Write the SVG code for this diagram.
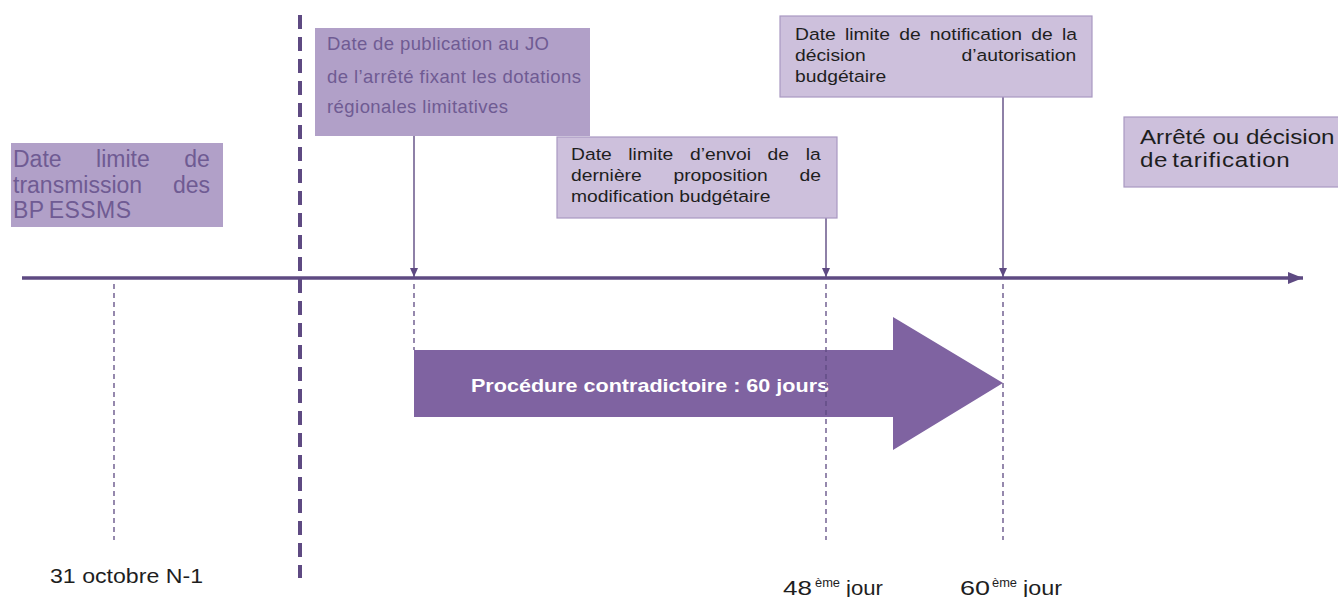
<svg xmlns="http://www.w3.org/2000/svg" width="1338" height="597" viewBox="0 0 1338 597">
<style>
  text { font-family: "Liberation Sans", Arial, sans-serif; }
  .b1 { fill: #b1a0c8; }
  .t1 { fill: #6f5b93; }
  .b3 { fill: #cdc0dc; stroke: #a998c2; stroke-width: 1.2; }
  .t3 { fill: #1e1e1e; font-size: 16.5px; }
  .thin { stroke: #5e4a82; stroke-width: 1.4; fill: none; }
  .dash { stroke: #5e4a82; stroke-width: 1.3; stroke-dasharray: 5 4; fill: none; }
  .lbl { fill: #1e1e1e; }
</style>
<defs>
  <marker id="ah" markerWidth="10" markerHeight="10" refX="9" refY="5" orient="auto" markerUnits="userSpaceOnUse">
    <path d="M0,1 L9,5 L0,9 Z" fill="#5e4a82"/>
  </marker>
  <marker id="bigah" markerWidth="16" markerHeight="14" refX="15" refY="7" orient="auto" markerUnits="userSpaceOnUse">
    <path d="M0,1 L15,7 L0,13 Z" fill="#5e4a82"/>
  </marker>
</defs>

<g id="procedure">
  <polygon points="414,350 893,350 893,317 1003,383 893,450 893,417 414,417" fill="#7f63a1"/>
  <text x="471" y="392" font-size="19" font-weight="bold" fill="#ffffff" textLength="358" lengthAdjust="spacingAndGlyphs">Procédure contradictoire : 60 jours</text>
</g>

<g id="connectors">
  <line x1="22" y1="278" x2="1303" y2="278" stroke="#5e4a82" stroke-width="3.5" marker-end="url(#bigah)"/>
  <line x1="300" y1="15" x2="300" y2="578" stroke="#5e4a82" stroke-width="4" stroke-dasharray="14 8"/>
  <line class="thin" x1="414" y1="136" x2="414" y2="277" marker-end="url(#ah)"/>
  <line class="thin" x1="826" y1="218" x2="826" y2="277" marker-end="url(#ah)"/>
  <line class="thin" x1="1003" y1="97" x2="1003" y2="277" marker-end="url(#ah)"/>
  <line class="dash" x1="114" y1="284" x2="114" y2="540"/>
  <line class="dash" x1="414" y1="284" x2="414" y2="350"/>
  <line class="dash" x1="826" y1="284" x2="826" y2="540"/>
  <line class="dash" x1="1003" y1="284" x2="1003" y2="540"/>
</g>

<g id="bp-essms">
  <rect class="b1" x="11" y="143" width="212" height="84"/>
  <text class="t1" x="13" y="167" font-size="23" word-spacing="28.1">Date limite de</text>
  <text class="t1" x="13" y="193" font-size="23" word-spacing="24.5">transmission des</text>
  <text class="t1" x="13" y="218" font-size="23" word-spacing="-2" letter-spacing="0.4">BP ESSMS</text>
</g>

<g id="publication-jo">
  <rect class="b1" x="315" y="28" width="275" height="108" fill="#b3a1c9"/>
  <text class="t1" x="327" y="50" font-size="18.5" textLength="222">Date de publication au JO</text>
  <text class="t1" x="327" y="83" font-size="18.5" textLength="254">de l’arrêté fixant les dotations</text>
  <text class="t1" x="327" y="113" font-size="18.5" textLength="181">régionales limitatives</text>
</g>

<g id="derniere-proposition">
  <rect class="b3" x="557" y="137" width="280" height="81"/>
  <g transform="translate(571,0) scale(1.17,1)">
    <text class="t3" x="0" y="160" word-spacing="9.6">Date limite d’envoi de la</text>
    <text class="t3" x="0" y="181" word-spacing="22.5">dernière proposition de</text>
    <text class="t3" x="0" y="202">modification budgétaire</text>
  </g>
</g>

<g id="notification">
  <rect class="b3" x="780" y="16" width="312" height="81"/>
  <g transform="translate(795,0) scale(1.17,1)">
    <text class="t3" x="0" y="40" word-spacing="3.3">Date limite de notification de la</text>
    <text class="t3" x="0" y="61" word-spacing="77.2">décision d’autorisation</text>
    <text class="t3" x="0" y="82">budgétaire</text>
  </g>
</g>

<g id="tarification">
  <rect class="b3" x="1124" y="117" width="216" height="70"/>
  <g transform="translate(1140,0) scale(1.15,1)">
    <text class="lbl" x="0" y="144" font-size="21">Arrêté ou décision</text>
    <text class="lbl" x="0" y="167" font-size="21" letter-spacing="0.6" word-spacing="-3">de tarification</text>
  </g>
</g>

<g id="label-31-octobre">
  <text class="lbl" x="50" y="583" font-size="20" textLength="153" lengthAdjust="spacingAndGlyphs">31 octobre N-1</text>
</g>

<g id="label-48">
  <text class="lbl" x="783" y="595" font-size="21" textLength="29" lengthAdjust="spacingAndGlyphs">48</text>
  <text class="lbl" x="815" y="587" font-size="12" textLength="25" lengthAdjust="spacingAndGlyphs">ème</text>
  <text class="lbl" x="846" y="595" font-size="21" textLength="37" lengthAdjust="spacingAndGlyphs">jour</text>
</g>

<g id="label-60">
  <text class="lbl" x="960" y="595" font-size="21" textLength="30" lengthAdjust="spacingAndGlyphs">60</text>
  <text class="lbl" x="992" y="587" font-size="12" textLength="25" lengthAdjust="spacingAndGlyphs">ème</text>
  <text class="lbl" x="1023" y="595" font-size="21" textLength="39" lengthAdjust="spacingAndGlyphs">jour</text>
</g>
</svg>
